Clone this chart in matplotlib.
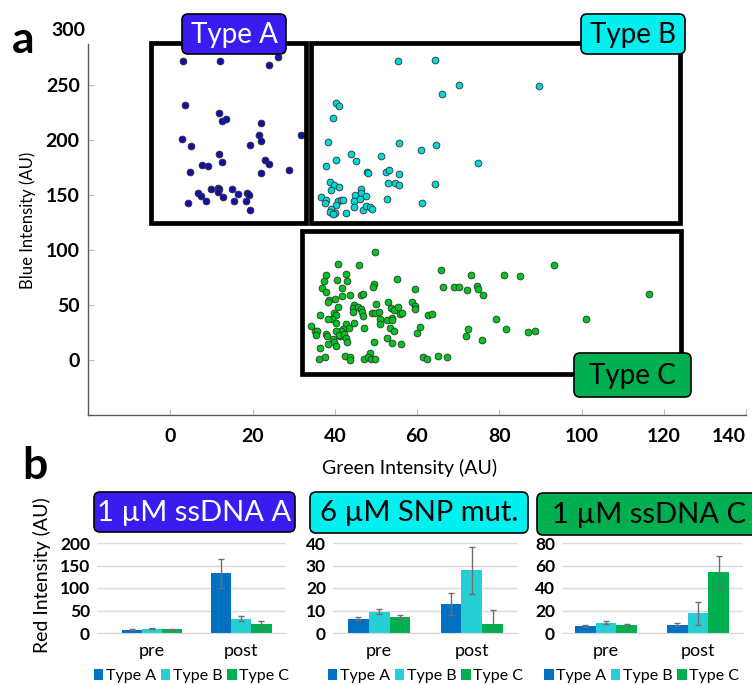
import matplotlib
matplotlib.use('Agg')
import matplotlib.pyplot as plt
from matplotlib.patches import Rectangle, FancyBboxPatch
from matplotlib.transforms import IdentityTransform
import numpy as np

plt.rcParams['font.family'] = ['Lato', 'DejaVu Sans']

# ---------------- Panel a data (Green intensity, Blue intensity) ----------------
A_green = [3.2, 12.1, 23.9, 26.1, 3.5, 11.8, 12.7, 13.5, 22.1, 2.9, 5.1, 21.5, 22.1, 19.4, 31.9,
           11.8, 12.7, 7.7, 9.3, 4.8, 23.0, 23.9, 28.8, 22.1, 6.8, 7.4, 10.0, 11.5, 11.9, 11.7,
           15.0, 12.9, 16.4, 18.7, 19.2, 4.4, 8.8, 15.4, 18.5, 19.4]
A_blue = [271.5, 271.5, 268, 274.8, 232, 224.5, 216.7, 218.5, 214.8, 200.3, 193.9, 204.3, 198.5, 195.5, 204.5,
          187.5, 179.7, 176.7, 176, 171, 181.2, 178.2, 172.7, 169.7, 151.5, 148.8, 155.2, 156, 155.2, 152.4,
          155.2, 147.9, 150.6, 151.5, 150, 143, 144.3, 144.8, 144.3, 136.6]

B_green = [55.4, 64.3, 70.1, 66.2, 89.6, 40.2, 41.0, 39.5, 38.4, 55.6, 64.5, 61.0, 44.0, 51.3, 40.4,
           45.1, 74.9, 37.9, 47.9, 48.1, 52.5, 53.2, 55.6, 38.9, 39.7, 41.1, 39.0, 52.9, 54.7, 55.6,
           64.3, 46.4, 46.5, 45.0, 47.6, 36.7, 37.9, 37.6, 40.7, 41.4, 42.1, 40.3, 44.8, 46.2, 44.6,
           52.6, 61.3, 39.2, 38.9, 40.0, 39.5, 42.7, 46.8, 47.5, 48.6, 49.0]
B_blue = [271.5, 272.7, 249.7, 241.2, 248.5, 233.6, 230.3, 219.7, 198.2, 197, 195.5, 190.6, 187.5, 185.5, 181.2,
          180.6, 178.5, 175.8, 170.3, 169.8, 170.3, 172.1, 169.1, 161.5, 158.8, 157, 154.2, 160.6, 160.6, 158.8,
          159.7, 155.5, 151.5, 149.7, 149.1, 147.9, 145.5, 142.4, 144.5, 145.5, 145.2, 140.9, 144.3, 146.1, 138.8,
          146.1, 142.4, 137, 134.8, 133.6, 132.4, 133.9, 136.4, 140.3, 139.1, 137.3]

C_green = [49.8, 40.9, 45.9, 37.8, 42.7, 37.5, 40.5, 43.1, 36.8, 41.8,
           49.5, 49.4, 55.2, 37.8, 41.8, 43.7, 46.4, 46.9, 38.5, 38.3,
           40.1, 59.5, 40.9, 50.0, 52.9, 44.8, 44.4, 45.7, 46.4, 46.7,
           44.4, 39.9, 40.4, 39.4, 38.4, 36.5, 49.1, 49.9, 50.8, 53.7,
           54.3, 55.3, 55.8, 56.3, 58.9, 59.4, 59.4, 46.8, 50.9, 51.0,
           52.6, 53.8, 53.8, 44.8, 42.7, 40.2, 43.5, 41.9, 41.5, 40.2,
           34.3, 35.1, 35.8, 35.5, 37.9, 38.1, 41.2, 41.0, 42.3, 42.8,
           42.9, 39.6, 39.7, 38.4, 40.4, 47.0, 53.5, 54.3, 52.7, 53.8,
           56.0, 49.5, 60.8, 59.9, 62.6, 63.6, 65.8, 73.2, 81.1, 85.0,
           93.2, 66.3, 69.1, 70.2, 72.2, 74.7, 74.8, 76.1, 116.3, 79.2,
           101.0, 72.5, 71.9, 75.8, 81.6, 87.0, 88.8, 36.4, 36.1, 37.7,
           42.6, 43.6, 43.7, 47.1, 48.6, 48.1, 48.9, 49.9, 61.4, 62.5,
           65.0, 67.2]
C_blue = [98.2, 87.6, 85.8, 77.0, 78.2, 71.5, 72.7, 71.8, 65.5, 65.8,
          68.8, 66.7, 73.9, 61.5, 58.2, 59.4, 58.8, 59.7, 54.2, 52.7,
          55.5, 64.5, 48.2, 50.9, 53.0, 49.7, 47.0, 48.2, 46.1, 43.9,
          43.3, 42.7, 41.2, 37.6, 37.0, 40.6, 42.7, 42.7, 43.3, 47.0,
          45.2, 47.9, 41.8, 42.7, 52.7, 49.4, 46.1, 39.7, 37.3, 33.0,
          36.4, 38.5, 36.4, 33.3, 32.7, 33.6, 29.1, 28.5, 26.1, 26.7,
          30.9, 26.4, 26.1, 23.0, 23.6, 21.5, 21.5, 22.7, 23.6, 19.7,
          16.4, 19.1, 16.4, 14.8, 12.4, 29.1, 29.4, 26.4, 20.0, 15.5,
          14.5, 16.4, 30.0, 24.2, 40.9, 42.1, 81.8, 77.0, 77.0, 76.4,
          85.8, 66.7, 66.7, 66.7, 63.9, 67.6, 64.5, 58.8, 60.3, 37.6,
          37.0, 28.2, 21.5, 18.2, 28.5, 25.8, 26.4, 11.2, 0.6, 2.4,
          3.6, 2.4, 0.0, 0.6, 6.7, 2.4, 1.2, 1.2, 2.4, 0.6,
          3.6, 3.0]

# gates (green range, blue range)
gate_A = ((-4.6, 33.1), (124.5, 288))
gate_B = ((34.3, 124.0), (124.5, 288))
gate_C = ((32.1, 124.3), (-12.7, 117))

x_ticks_a = [0, 20, 40, 60, 80, 100, 120, 140]
y_ticks_a = [0, 50, 100, 150, 200, 250]

# ---------------- Panel b data ----------------
groups = ['pre', 'post']
series = ['Type A', 'Type B', 'Type C']
titles_b = ['1 \u00b5M ssDNA A', '6 \u00b5M SNP mut.', '1 \u00b5M ssDNA C']
vals_b = [
    {'Type A': [7.4, 133], 'Type B': [9.8, 32], 'Type C': [8.1, 20]},
    {'Type A': [6.4, 12.8], 'Type B': [9.5, 27.8], 'Type C': [7.2, 4.2]},
    {'Type A': [6.2, 7.4], 'Type B': [9.1, 17.5], 'Type C': [7.1, 54]},
]
errs_b = [
    {'Type A': [1.0, 32], 'Type B': [1.0, 6], 'Type C': [1.0, 7]},
    {'Type A': [0.5, 5.0], 'Type B': [1.0, 10.5], 'Type C': [0.9, 6.0]},
    {'Type A': [0.8, 1.3], 'Type B': [1.2, 10.3], 'Type C': [1.2, 14.7]},
]
ylims_b = [200, 40, 80]
yticks_b = [[0, 50, 100, 150, 200], [0, 10, 20, 30, 40], [0, 20, 40, 60, 80]]

# ---------------- Styling ----------------
W, H = 752, 685
fig = plt.figure(figsize=(W / 100, H / 100), dpi=100)


def fx(px):
    return px / W


def fy(py):
    return 1 - py / H


def label_box(x0, y0, x1, y1, fc, text, tc, fs, lw=1.2):
    r = 6
    patch = FancyBboxPatch((x0 + r, H - y1 + r), (x1 - x0 - 2 * r), (y1 - y0 - 2 * r),
                           boxstyle=f'round,pad={r},rounding_size={r}',
                           transform=IdentityTransform(), fc=fc, ec='black', lw=lw, zorder=5)
    fig.add_artist(patch)
    fig.text(fx((x0 + x1) / 2), fy((y0 + y1) / 2 + 1), text, ha='center', va='center',
             color=tc, fontsize=fs, zorder=6)


# Panel a
ax = fig.add_axes([fx(88), fy(415), (746 - 88) / W, (415 - 44) / H])
ax.set_xlim(-20, 140)
ax.set_ylim(-50, 287)
for sp in ['top', 'right']:
    ax.spines[sp].set_visible(False)
for sp in ['left', 'bottom']:
    ax.spines[sp].set_color('#595959')
    ax.spines[sp].set_linewidth(1.0)
ax.set_xticks(x_ticks_a)
ax.set_yticks(y_ticks_a)
ax.tick_params(axis='x', direction='in', length=4, color='#bfbfbf', pad=9, labelsize=14)
ax.tick_params(axis='y', direction='in', length=4, color='#bfbfbf', pad=6, labelsize=14)
for lab in ax.get_xticklabels() + ax.get_yticklabels():
    lab.set_fontweight('bold')
ax.get_xticklabels()[-1].set_horizontalalignment('right')
fig.text(fx(85), fy(30), '300', ha='right', va='center', fontsize=14, fontweight='bold')

ax.scatter(A_green, A_blue, s=24, c='#1010a8', edgecolors='#333333', linewidths=0.6, zorder=3)
ax.scatter(B_green, B_blue, s=24, c='#00d8d8', edgecolors='#333333', linewidths=0.6, zorder=3)
ax.scatter(C_green, C_blue, s=24, c='#00c41e', edgecolors='#333333', linewidths=0.6, zorder=3)

for (gx, gy) in [gate_A, gate_B, gate_C]:
    ax.add_patch(Rectangle((gx[0], gy[0]), gx[1] - gx[0], gy[1] - gy[0], fill=False,
                           ec='black', lw=3.4, clip_on=False, zorder=4))

fig.text(fx(28), fy(220), 'Blue Intensity (AU)', rotation=90, ha='center', va='center', fontsize=12)
fig.text(fx(410), fy(468), 'Green Intensity (AU)', ha='center', va='center', fontsize=14)
fig.text(fx(12), fy(40), 'a', ha='left', va='center', fontsize=32, fontweight='bold')

label_box(182, 14, 286, 54, '#3a1cf0', 'Type A', 'white', 20)
label_box(581, 14, 685, 54, '#00f0f0', 'Type B', 'black', 20)
label_box(574, 353, 691, 397, '#00b050', 'Type C', 'black', 20)

# Panel b
fig.text(fx(22), fy(466), 'b', ha='left', va='center', fontsize=32, fontweight='bold')
fig.text(fx(42), fy(575), 'Red Intensity (AU)', rotation=90, ha='center', va='center', fontsize=14)

bar_colors = {'Type A': '#0070c0', 'Type B': '#26cfd3', 'Type C': '#00b050'}
ax_px = [(97, 286, (-0.62, 1.5)), (333, 518, (-0.5, 1.5)), (562, 743, (-0.48, 1.49))]
legend_x = [0.5, 0.5, 0.44]
title_boxes = [((94, 492, 295, 532), '#3a1cf0', 'white'),
               ((310, 492, 528, 533), '#00f0f0', 'black'),
               ((537, 493, 760, 535), '#00b050', 'black')]
w = 0.225
for k in range(3):
    x0p, x1p, xl = ax_px[k]
    bx = fig.add_axes([fx(x0p), fy(633), (x1p - x0p) / W, 90 / H])
    xpos = np.arange(len(groups))
    for j, s in enumerate(series):
        bx.bar(xpos + (j - 1) * w, vals_b[k][s], width=w, color=bar_colors[s], label=s, zorder=2,
               yerr=errs_b[k][s], error_kw=dict(ecolor='#6f6f6f', elinewidth=1.0, capsize=2.5, capthick=1.0))
    bx.set_xlim(*xl)
    bx.set_ylim(0, ylims_b[k])
    bx.set_yticks(yticks_b[k])
    bx.set_xticks(xpos)
    bx.set_xticklabels(groups)
    bx.yaxis.grid(True, color='#d9d9d9', lw=1.0, zorder=0)
    bx.set_axisbelow(True)
    for sp in ['top', 'right', 'left']:
        bx.spines[sp].set_visible(False)
    bx.spines['bottom'].set_color('#d9d9d9')
    bx.tick_params(axis='y', length=0, pad=5, labelsize=12.5)
    bx.tick_params(axis='x', length=0, pad=7, labelsize=13)
    for lab in bx.get_yticklabels():
        lab.set_fontweight('bold')
    bx.legend(loc='center', bbox_to_anchor=(legend_x[k], -0.48), ncol=3, frameon=False, fontsize=11.5,
              handlelength=0.6, handleheight=0.6, handletextpad=0.15, columnspacing=0.3,
              borderaxespad=0, borderpad=0)
    (tx0, ty0, tx1, ty1), fc, tc = title_boxes[k]
    label_box(tx0, ty0, tx1, ty1, fc, titles_b[k], tc, 21)

fig.savefig('out.png', dpi=100)
